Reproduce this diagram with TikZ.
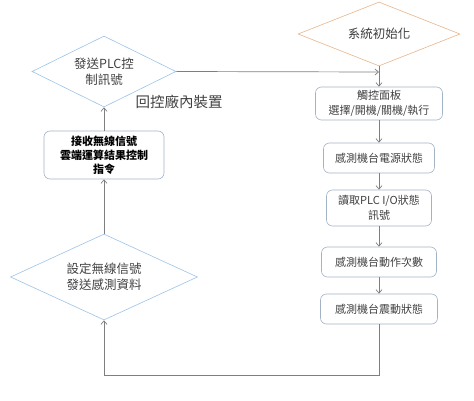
\documentclass[tikz,border=0pt]{standalone}
\usepackage{fontspec}
\newfontfamily\cjk{Noto Sans CJK TC}
\usetikzlibrary{shapes.geometric,arrows.meta}
\definecolor{dblue}{HTML}{9DC3E6}
\definecolor{dorange}{HTML}{E8B48A}
\definecolor{bxline}{HTML}{A3B3C6}
\definecolor{conn}{HTML}{7F7F7F}
\definecolor{txt}{HTML}{404040}
\tikzset{
  dia/.style={diamond, draw=dblue, line width=0.6pt, aspect=2.5, inner sep=0pt, align=center,
    font=\cjk\fontsize{12.5}{16}\selectfont, text=txt},
  stepbox/.style={rectangle, rounded corners=6pt, draw=bxline, line width=0.6pt, inner sep=0pt,
    align=center, font=\cjk\fontsize{11}{15}\selectfont, text=txt},
  arr/.style={draw=conn, line width=0.7pt, -{Straight Barb[length=3.5pt,width=6pt]}},
  ln/.style={draw=conn, line width=0.7pt}
}
\begin{document}
\begin{tikzpicture}[x=1pt,y=-1pt]
\useasboundingbox (0,0) rectangle (474,401);
\node[dia, draw=dorange, minimum width=162pt, minimum height=64pt] (init) at (379,34) {系統初始化};
\node[stepbox, minimum width=127pt, minimum height=33pt] (b1) at (379,103.5) {觸控面板\\選擇/開機/關機/執行};
\node[stepbox, minimum width=111pt, minimum height=30pt] (b2) at (379,158) {感測機台電源狀態};
\node[stepbox, minimum width=105pt, minimum height=36pt] (b3) at (379,208) {讀取PLC I/O狀態\\訊號};
\node[stepbox, minimum width=115pt, minimum height=30pt] (b4) at (379,262) {感測機台動作次數};
\node[stepbox, minimum width=117pt, minimum height=30pt] (b5) at (379,309) {感測機台震動狀態};
\node[dia, minimum width=144pt, minimum height=71pt] (d1) at (104,71.5) {發送PLC控\\制訊號};
\node[stepbox, minimum width=120pt, minimum height=48pt, font=\cjk\bfseries\fontsize{11}{14}\selectfont, text=black] (bl) at (104,155) {接收無線信號\\雲端運算結果控制\\指令};
\node[dia, minimum width=187pt, minimum height=86pt] (d2) at (104,277) {設定無線信號\\發送感測資料};
\node[font=\cjk\fontsize{14.5}{17}\selectfont, text=txt, inner sep=0pt] (lab) at (179,102) {回控廠內裝置};
\coordinate (m) at (379,72);
\coordinate (c1) at (379,375);
\coordinate (c2) at (104,375);
\draw[arr] (init.south) -- (b1.north);
\draw[arr] (d1.east) -- (m);
\draw[arr] (b1.south) -- (b2.north);
\draw[arr] (b2.south) -- (b3.north);
\draw[arr] (b3.south) -- (b4.north);
\draw[arr] (b4.south) -- (b5.north);
\draw[arr] (b5.south) -- (c1) -- (c2) -- (d2.south);
\draw[arr] (d2.north) -- (bl.south);
\draw[arr] (bl.north) -- (d1.south);
\end{tikzpicture}
\end{document}
